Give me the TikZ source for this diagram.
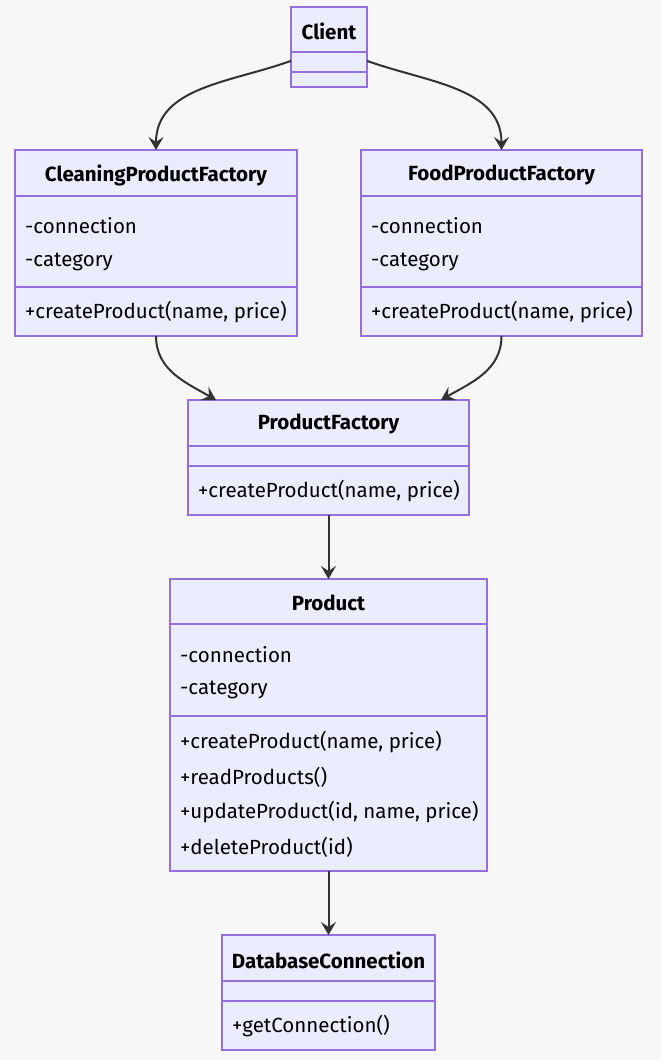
\documentclass[tikz,border=0pt]{standalone}
\usepackage{fontspec}
\setmainfont{Fira Sans}
\usetikzlibrary{arrows.meta,calc}
\definecolor{bg}{HTML}{F8F7F7}
\definecolor{boxfill}{HTML}{ECECFF}
\definecolor{boxline}{HTML}{9370DB}
\definecolor{edgec}{HTML}{333333}
\begin{document}
\begin{tikzpicture}[x=1pt,y=-1pt,
  cls/.style={draw=boxline, fill=boxfill, line width=1.6pt, anchor=north west, inner sep=0pt, outer sep=0pt},
  ttl/.style={font=\fontsize{20.5}{24}\selectfont\bfseries, text=black, inner sep=0pt},
  mem/.style={font=\fontsize{20.5}{24}\selectfont, anchor=west, inner sep=0pt, text=black},
  sep/.style={draw=boxline, line width=1.4pt},
  dep/.style={draw=edgec, line width=2pt, -{Stealth[length=13pt,width=15pt,inset=5pt]}}]
\fill[bg] (0,0) rectangle (661,1060);
\useasboundingbox (0,0) rectangle (661,1060);
% Client
\node[cls, minimum width=76pt, minimum height=80pt] (client) at (291,7) {};
\draw[sep] (291,52) -- (367,52);
\draw[sep] (291,72) -- (367,72);
\node[ttl] (tclient) at (329,31) {Client};
% CleaningProductFactory
\node[cls, minimum width=282pt, minimum height=186pt] (cpf) at (15,150) {};
\draw[sep] (15,196) -- (297,196);
\draw[sep] (15,287) -- (297,287);
\node[ttl] (tcpf) at (156,175) {CleaningProductFactory};
\node[mem] (cpf1) at (25,226) {-connection};
\node[mem] (cpf2) at (25,262) {-category};
\node[mem] (cpf3) at (25,312) {+createProduct(name, price)};
% FoodProductFactory
\node[cls, minimum width=281pt, minimum height=186pt] (fpf) at (361,150) {};
\draw[sep] (361,196) -- (642,196);
\draw[sep] (361,287) -- (642,287);
\node[ttl] (tfpf) at (501.5,175) {FoodProductFactory};
\node[mem] (fpf1) at (371,226) {-connection};
\node[mem] (fpf2) at (371,262) {-category};
\node[mem] (fpf3) at (371,312) {+createProduct(name, price)};
% ProductFactory
\node[cls, minimum width=281pt, minimum height=115pt] (pf) at (188,400) {};
\draw[sep] (188,446) -- (469,446);
\draw[sep] (188,466) -- (469,466);
\node[ttl] (tpf) at (328.5,424) {ProductFactory};
\node[mem] (pf1) at (198,491) {+createProduct(name, price)};
% Product
\node[cls, minimum width=317pt, minimum height=292pt] (prod) at (170,579) {};
\draw[sep] (170,624) -- (487,624);
\draw[sep] (170,716) -- (487,716);
\node[ttl] (tprod) at (328.5,603) {Product};
\node[mem] (p1) at (180,655) {-connection};
\node[mem] (p2) at (180,690) {-category};
\node[mem] (p3) at (180,742) {+createProduct(name, price)};
\node[mem] (p4) at (180,777) {+readProducts()};
\node[mem] (p5) at (180,812) {+updateProduct(id, name, price)};
\node[mem] (p6) at (180,847) {+deleteProduct(id)};
% DatabaseConnection
\node[cls, minimum width=213pt, minimum height=115pt] (db) at (222,935) {};
\draw[sep] (222,981) -- (435,981);
\draw[sep] (222,1001) -- (435,1001);
\node[ttl] (tdb) at (328.5,960) {DatabaseConnection};
\node[mem] (db1) at (232,1026) {+getConnection()};
% edges
\draw[dep] (client.200) to[out=200,in=90] (cpf.north);
\draw[dep] (client.-20) to[out=-20,in=90] (fpf.north);
\draw[dep] (cpf.south) to[out=-90,in=150] ($(pf.north west)+(28,0)$);
\draw[dep] (fpf.south) to[out=-90,in=30] ($(pf.north east)+(-28,0)$);
\draw[dep] (pf.south) -- (prod.north);
\draw[dep] (prod.south) -- (db.north);
\end{tikzpicture}
\end{document}
